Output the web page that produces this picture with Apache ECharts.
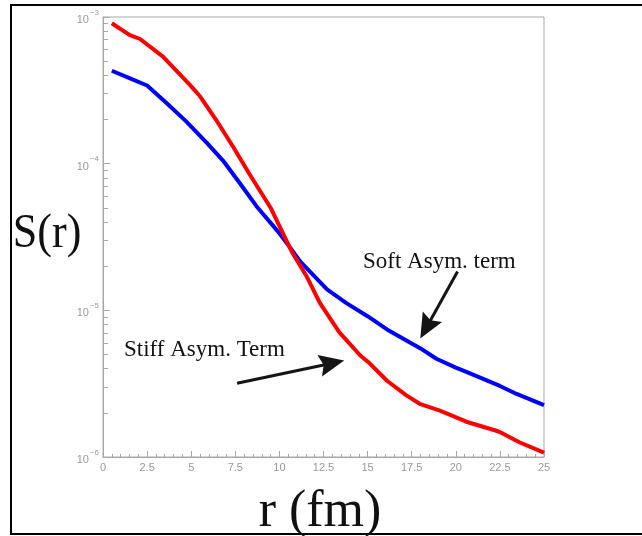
<!DOCTYPE html>
<html>
<head>
<meta charset="utf-8">
<title>S(r)</title>
<script src="https://cdn.jsdelivr.net/npm/echarts@6/dist/echarts.min.js"></script>
<style>
  html, body { margin: 0; padding: 0; background: #fff; }
  #chart { width: 642px; height: 536px; }
</style>
</head>
<body>
<div id="chart"></div>
<script>
// r (fm) sampled along each curve
const stiffR = [0.5, 1.5, 2.1, 3.4, 4.9, 5.5, 6.4, 7.4, 8.3, 9.5, 10.7, 11.55, 12.3, 13.4, 14.6, 15.1, 16.1, 17.2, 18.0, 19.1, 20.6, 22.3, 22.5, 23.6, 25.0];
const stiffS = [9.06e-4, 7.55e-4, 7.08e-4, 5.37e-4, 3.47e-4, 2.88e-4, 2.0e-4, 1.29e-4, 8.51e-5, 5.01e-5, 2.51e-5, 1.70e-5, 1.12e-5, 7.08e-6, 4.90e-6, 4.37e-6, 3.31e-6, 2.63e-6, 2.29e-6, 2.07e-6, 1.74e-6, 1.51e-6, 1.48e-6, 1.26e-6, 1.07e-6];

const softR = [0.5, 1.5, 2.5, 3.6, 4.7, 5.9, 6.8, 7.8, 8.7, 9.9, 10.6, 11.2, 12.7, 13.8, 15.0, 16.1, 17.4, 18.0, 18.9, 20.0, 20.6, 22.5, 23.45, 25.0];
const softS = [4.30e-4, 3.83e-4, 3.41e-4, 2.59e-4, 1.95e-4, 1.38e-4, 1.05e-4, 7.24e-5, 5.13e-5, 3.47e-5, 2.69e-5, 2.14e-5, 1.39e-5, 1.12e-5, 9.12e-6, 7.41e-6, 6.03e-6, 5.50e-6, 4.68e-6, 4.07e-6, 3.80e-6, 3.05e-6, 2.69e-6, 2.26e-6];

const xTicks = [0, 2.5, 5, 7.5, 10, 12.5, 15, 17.5, 20, 22.5, 25];
const yDecades = [-6, -5, -4, -3];
const yMinorMultiples = [2, 3, 4, 5, 6, 7, 8, 9];

// arrow annotations, in data coordinates [r, S] (end = centre of the head)
const stiffArrow = [[7.6, 3.18e-6], [12.98, 4.36e-6]];
const softArrow = [[20.1, 1.84e-5], [18.33, 7.62e-6]];

const AXIS_GRAY = '#a8a8a8';
const LABEL_GRAY = '#9a9a9a';

const minorLogTicks = [];
yDecades.slice(0, -1).forEach(d => {
  yMinorMultiples.forEach(m => minorLogTicks.push(d + Math.log10(m)));
});

const pairs = (xs, ys) => xs.map((x, i) => [x, ys[i]]);
const arrowLine = (a) => [{ coord: a[0] }, { coord: a[1] }];

const chart = echarts.init(document.getElementById('chart'));

const option = {
  animation: false,
  grid: {
    left: 103,
    top: 17,
    right: 98,
    bottom: 79,
    show: true,
    borderColor: AXIS_GRAY,
    borderWidth: 1
  },
  xAxis: {
    type: 'value',
    min: 0,
    max: 25,
    interval: 2.5,
    axisLine: { lineStyle: { color: AXIS_GRAY } },
    axisTick: { inside: true, length: 6, lineStyle: { color: AXIS_GRAY } },
    minorTick: { show: true, splitNumber: 5, length: 3, lineStyle: { color: AXIS_GRAY } },
    splitLine: { show: false },
    axisLabel: {
      color: LABEL_GRAY,
      fontFamily: 'Liberation Sans',
      fontSize: 11,
      margin: 5,
      customValues: xTicks,
      formatter: v => String(v)
    }
  },
  yAxis: [
    {
      type: 'log',
      logBase: 10,
      min: 1e-6,
      max: 1e-3,
      axisLine: { show: true, lineStyle: { color: AXIS_GRAY } },
      axisTick: { inside: true, length: 7, lineStyle: { color: AXIS_GRAY } },
      splitLine: { show: false },
      axisLabel: {
        margin: 4,
        formatter: v => '{b|10}{s|\u2212' + Math.abs(Math.round(Math.log10(v))) + '}',
        rich: {
          b: { fontSize: 11, color: LABEL_GRAY, fontFamily: 'Liberation Sans', verticalAlign: 'bottom' },
          s: { fontSize: 8, color: LABEL_GRAY, fontFamily: 'Liberation Sans', verticalAlign: 'top', padding: [0, 0, 9, 1] }
        }
      }
    },
    {
      // log-spaced minor ticks (2..9 per decade)
      type: 'value',
      min: -6,
      max: -3,
      position: 'left',
      axisLine: { show: false },
      axisLabel: { show: false },
      splitLine: { show: false },
      axisTick: {
        inside: true,
        length: 5,
        customValues: minorLogTicks,
        lineStyle: { color: AXIS_GRAY }
      }
    }
  ],
  series: [
    {
      name: 'Stiff Asym. Term',
      type: 'line',
      yAxisIndex: 0,
      data: pairs(stiffR, stiffS),
      showSymbol: false,
      smooth: false,
      lineStyle: { color: '#ff0000', width: 4 },
      z: 3,
      markLine: {
        silent: true,
        symbol: ['none', 'path://M0 0L11 25L0 21L-11 25Z'],
        symbolSize: [22, 25],
        label: { show: false },
        lineStyle: { color: '#151515', width: 3, type: 'solid' },
        itemStyle: { color: '#151515' },
        data: [arrowLine(stiffArrow), arrowLine(softArrow)]
      }
    },
    {
      name: 'Soft Asym. term',
      type: 'line',
      yAxisIndex: 0,
      data: pairs(softR, softS),
      showSymbol: false,
      smooth: false,
      lineStyle: { color: '#0000ff', width: 4 },
      z: 2
    }
  ],
  graphic: [
    {
      type: 'rect',
      shape: { x: 11, y: 5, width: 700, height: 529 },
      style: { fill: null, stroke: '#000', lineWidth: 2 },
      silent: true
    },
    {
      type: 'text',
      x: 47, y: 234,
      style: {
        text: 'S(r)',
        font: '48px "Liberation Serif"',
        fill: '#111',
        align: 'center',
        verticalAlign: 'middle'
      },
      scaleX: 0.92
    },
    {
      type: 'text',
      x: 320, y: 512,
      style: {
        text: 'r (fm)',
        font: '52px "Liberation Serif"',
        fill: '#111',
        align: 'center',
        verticalAlign: 'middle'
      }
    },
    {
      type: 'text',
      x: 363, y: 262,
      style: {
        text: 'Soft Asym. term',
        font: '23px "Liberation Serif"',
        fill: '#111',
        align: 'left',
        verticalAlign: 'middle'
      }
    },
    {
      type: 'text',
      x: 124, y: 350,
      style: {
        text: 'Stiff Asym. Term',
        font: '23px "Liberation Serif"',
        fill: '#111',
        align: 'left',
        verticalAlign: 'middle'
      }
    }
  ]
};

chart.setOption(option);
</script>
</body>
</html>
